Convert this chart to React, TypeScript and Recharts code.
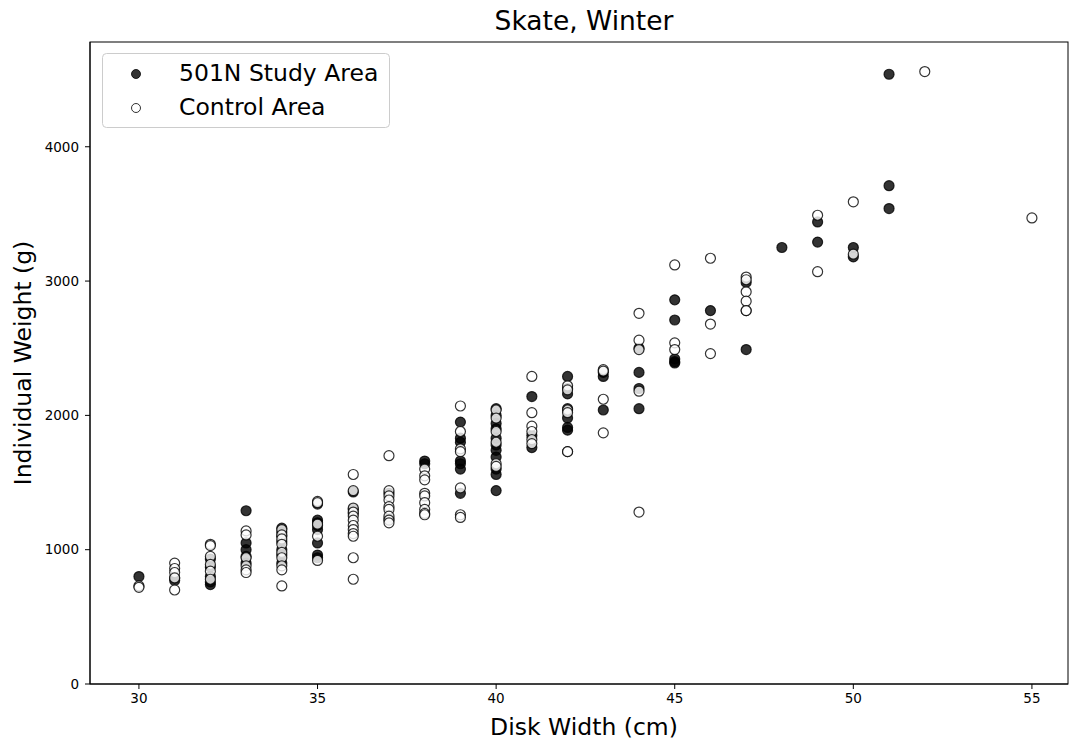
import React from "react";
import { ScatterChart, Scatter, XAxis, YAxis } from "recharts";

const title = "Skate, Winter";
const xLabel = "Disk Width (cm)";
const yLabel = "Individual Weight (g)";
const studyName = "501N Study Area";
const controlName = "Control Area";
const xTicks = [30, 35, 40, 45, 50, 55];
const yTicks = [0, 1000, 2000, 3000, 4000];

// [disk width, weights...]
const studyGroups: [number, number[]][] = [
  [30, [800]],
  [31, [790, 770]],
  [32, [930, 870, 800, 760, 740]],
  [33, [1290, 1050, 1000, 950, 900]],
  [34, [1160, 1130, 1100, 1060, 1000, 960, 900]],
  [35, [1340, 1220, 1200, 1180, 1150, 1050, 960, 940]],
  [36, [1430, 1300, 1270]],
  [37, [1420, 1230]],
  [38, [1660, 1640]],
  [39, [1950, 1830, 1800, 1660, 1640, 1600, 1420]],
  [40, [2050, 2000, 1940, 1900, 1830, 1780, 1740, 1690, 1600, 1560, 1440]],
  [41, [2140, 1850, 1760]],
  [42, [2290, 2200, 2160, 2050, 1980, 1910, 1890]],
  [43, [2320, 2290, 2040]],
  [44, [2500, 2320, 2200, 2050]],
  [45, [2860, 2710, 2420, 2400, 2390]],
  [46, [2780]],
  [47, [2990, 2490]],
  [48, [3250]],
  [49, [3440, 3290]],
  [50, [3250, 3180]],
  [51, [4540, 3710, 3540]],
];

const controlGroups: [number, number[]][] = [
  [30, [730, 720]],
  [31, [900, 860, 830, 790, 700]],
  [32, [1040, 1030, 950, 890, 840, 780]],
  [33, [1140, 1110, 940, 880, 850, 830]],
  [34, [1150, 1110, 1080, 1040, 980, 940, 880, 850, 730]],
  [35, [1360, 1350, 1190, 1100, 920]],
  [36, [1560, 1440, 1310, 1280, 1250, 1220, 1180, 1150, 1120, 1100, 940, 780]],
  [37, [1700, 1440, 1400, 1370, 1320, 1300, 1250, 1220, 1200]],
  [38, [1600, 1550, 1520, 1420, 1400, 1350, 1300, 1270, 1260]],
  [39, [2070, 1880, 1750, 1730, 1460, 1260, 1240]],
  [40, [2040, 1980, 1880, 1800, 1640, 1620]],
  [41, [2290, 2020, 1920, 1880, 1820, 1790]],
  [42, [2220, 2190, 2040, 2020, 1730, 1730]],
  [43, [2340, 2330, 2120, 1870]],
  [44, [2760, 2560, 2490, 2180, 1280]],
  [45, [3120, 2540, 2490]],
  [46, [3170, 2680, 2460]],
  [47, [3030, 3010, 2920, 2850, 2780, 2780]],
  [49, [3490, 3070]],
  [50, [3590, 3200]],
  [52, [4560]],
  [55, [3470]],
];

const flatten = (groups: [number, number[]][]) =>
  groups.flatMap(([w, ys]) => ys.map((y) => ({ x: w, y })));

const studyData = flatten(studyGroups);
const controlData = flatten(controlGroups);

const FONT = "DejaVu Sans, sans-serif";

const FilledDot = (props: any) => (
  <circle cx={props.cx} cy={props.cy} r={5} fill="#000" fillOpacity={0.8} stroke="#000" strokeOpacity={0.8} strokeWidth={1.2} />
);
const OpenDot = (props: any) => (
  <circle cx={props.cx} cy={props.cy} r={5} fill="#fff" fillOpacity={0.8} stroke="#000" strokeOpacity={0.8} strokeWidth={1.2} />
);

export default function App() {
  return (
    <div style={{ position: "absolute", left: 0, top: 0, width: 1069, height: 740, background: "#fff" }}>
      <ScatterChart width={1069} height={740} margin={{ top: 42, right: 1, left: 0, bottom: 0 }}>
        <XAxis
          type="number"
          dataKey="x"
          domain={[28.63, 56.01]}
          ticks={xTicks}
          allowDataOverflow
          height={56}
          stroke="#000"
          tickLine={{ stroke: "#000" }}
          tickSize={5}
          tickMargin={4}
          tick={{ fill: "#000", fontSize: 13.5, fontFamily: FONT }}
        />
        <YAxis
          type="number"
          dataKey="y"
          domain={[0, 4780]}
          ticks={yTicks}
          allowDataOverflow
          width={90}
          stroke="#000"
          tickLine={{ stroke: "#000" }}
          tickSize={5}
          tickMargin={6}
          tick={{ fill: "#000", fontSize: 13.5, fontFamily: FONT }}
        />
        <Scatter name={studyName} data={studyData} shape={FilledDot} isAnimationActive={false} />
        <Scatter name={controlName} data={controlData} shape={OpenDot} isAnimationActive={false} />
      </ScatterChart>
      <svg width={1069} height={740} style={{ position: "absolute", left: 0, top: 0, pointerEvents: "none" }}>
        <rect x={90} y={42} width={978} height={642} fill="none" stroke="#000" strokeWidth={1} />
        <text x={584} y={30} textAnchor="middle" fontSize={26.5} fontFamily={FONT} fill="#000">{title}</text>
        <text x={584} y={735} textAnchor="middle" fontSize={23.5} fontFamily={FONT} fill="#000">{xLabel}</text>
        <text x={31} y={363} transform="rotate(-90 31 363)" textAnchor="middle" fontSize={23.5} fontFamily={FONT} fill="#000">{yLabel}</text>
        <rect x={102.5} y={53.5} width={287} height={74} rx={4} fill="#fff" fillOpacity={0.8} stroke="#cccccc" />
        <circle cx={136} cy={74} r={4.5} fill="#000" fillOpacity={0.8} stroke="#000" strokeOpacity={0.8} />
        <circle cx={136} cy={108} r={4.5} fill="#fff" fillOpacity={0.8} stroke="#000" strokeOpacity={0.8} />
        <text x={179} y={81} fontSize={23.5} fontFamily={FONT} fill="#000">{studyName}</text>
        <text x={179} y={115} fontSize={23.5} fontFamily={FONT} fill="#000">{controlName}</text>
      </svg>
    </div>
  );
}
